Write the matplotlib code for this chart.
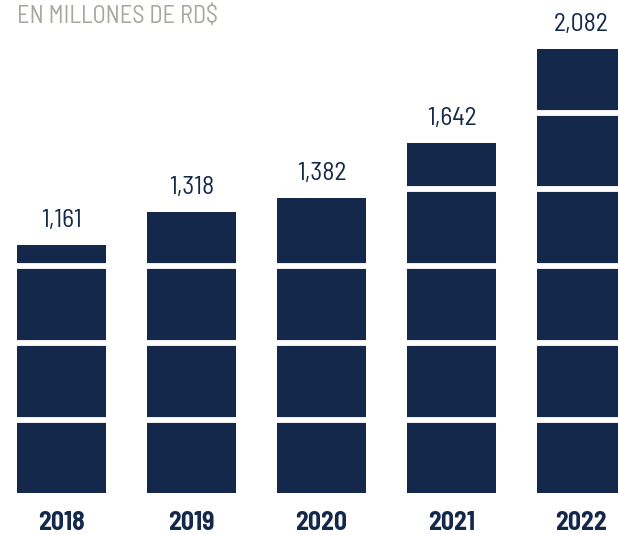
import matplotlib
matplotlib.use("Agg")
import matplotlib.pyplot as plt
import numpy as np

# datos (en millones de RD$)
anios = ["2018", "2019", "2020", "2021", "2022"]
valores = [1161, 1318, 1382, 1642, 2082]
etiquetas = ["1,161", "1,318", "1,382", "1,642", "2,082"]

azul = "#14284b"
gris = "#a7a7a0"
fuente = ["Barlow Semi Condensed", "DejaVu Sans"]

fig = plt.figure(figsize=(6.18, 5.35), dpi=100)
ax = fig.add_axes([0, 42 / 535, 1, 493 / 535])

x = np.arange(len(anios))
ax.bar(x, valores, width=0.685, color=azul, zorder=1)

# lineas blancas que cortan las barras
cortes = [343, 703, 1063, 1423, 1780]
for c in cortes:
    ax.axhline(c, color="white", linewidth=4.2, zorder=2)

for xi, v, t in zip(x, valores, etiquetas):
    ax.text(xi, v + 84, t, ha="center", va="baseline", fontsize=18.5,
            color=azul, family=fuente, fontweight="normal")

ax.set_xlim(-61.5 / 130, (618 - 61.5) / 130)
ax.set_ylim(0, 493 / 0.2133)
ax.set_xticks(x)
ax.set_xticklabels(anios, fontsize=18.5, fontweight="bold", color=azul, family=fuente)
ax.tick_params(axis="x", length=0, pad=13)
ax.set_yticks([])
for s in ax.spines.values():
    s.set_visible(False)

fig.text(17 / 618, 1 - 5 / 535, "EN MILLONES DE RD$", ha="left", va="top",
         fontsize=17.5, color=gris, family=fuente, fontweight="normal")

fig.savefig("out.png", dpi=100)
